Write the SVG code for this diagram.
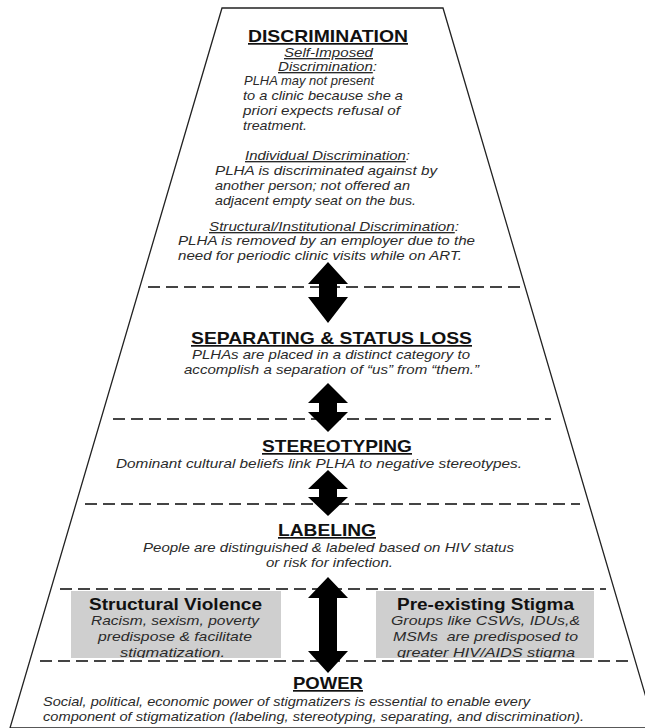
<svg xmlns="http://www.w3.org/2000/svg" width="645" height="728" viewBox="0 0 645 728">
<defs>
<style>
.t{font-family:"Liberation Sans",Arial,Helvetica,sans-serif;font-weight:bold;font-size:17px;fill:#111;text-decoration:underline}
.b{font-family:"Liberation Sans",Arial,Helvetica,sans-serif;font-style:italic;font-size:13.5px;fill:#2a2a2a}
.u{text-decoration:underline}
.bt{font-family:"Liberation Sans",Arial,Helvetica,sans-serif;font-weight:bold;font-size:16px;fill:#111}
.sep{stroke:#444;stroke-width:2;stroke-dasharray:12 6;fill:none}
.box{fill:#cfcfcf}
.arr{fill:#000}
.frame{fill:#fff;stroke:#222;stroke-width:1.3}
</style>
<clipPath id="cl"><rect x="71" y="591" width="210" height="67"/></clipPath>
<clipPath id="cr"><rect x="376" y="591" width="218" height="67"/></clipPath>
</defs>
<rect width="645" height="728" fill="#fff"/>
<polygon class="frame" points="222,8 443,8 655,728 10,728"/>

<g id="separators">
<line class="sep" x1="148" y1="287" x2="525" y2="287"/>
<line class="sep" x1="113" y1="419" x2="551" y2="419"/>
<line class="sep" x1="85" y1="504" x2="580" y2="504"/>
<line class="sep" x1="60" y1="589" x2="606" y2="589"/>
<line class="sep" x1="40" y1="661" x2="630" y2="661"/>
</g>

<g id="discrimination">
<text class="t" x="248" y="42" textLength="160" lengthAdjust="spacingAndGlyphs">DISCRIMINATION</text>
<text class="b" x="284" y="57" textLength="89" lengthAdjust="spacingAndGlyphs"><tspan class="u">Self-Imposed</tspan></text>
<text class="b" x="278" y="71" textLength="99" lengthAdjust="spacingAndGlyphs"><tspan class="u">Discrimination</tspan>:</text>
<text class="b" x="244" y="85" textLength="130" lengthAdjust="spacingAndGlyphs">PLHA may not present</text>
<text class="b" x="243" y="100" textLength="160" lengthAdjust="spacingAndGlyphs">to a clinic because she a</text>
<text class="b" x="243" y="115" textLength="157" lengthAdjust="spacingAndGlyphs">priori expects refusal of</text>
<text class="b" x="243" y="130" textLength="64" lengthAdjust="spacingAndGlyphs">treatment.</text>
<text class="b" x="245" y="160" textLength="165" lengthAdjust="spacingAndGlyphs"><tspan class="u">Individual Discrimination</tspan>:</text>
<text class="b" x="215" y="175" textLength="222" lengthAdjust="spacingAndGlyphs">PLHA is discriminated against by</text>
<text class="b" x="215" y="190" textLength="195" lengthAdjust="spacingAndGlyphs">another person; not offered an</text>
<text class="b" x="215" y="205" textLength="201" lengthAdjust="spacingAndGlyphs">adjacent empty seat on the bus.</text>
<text class="b" x="209" y="231" textLength="250" lengthAdjust="spacingAndGlyphs"><tspan class="u">Structural/Institutional Discrimination</tspan>:</text>
<text class="b" x="178" y="245" textLength="297" lengthAdjust="spacingAndGlyphs">PLHA is removed by an employer due to the</text>
<text class="b" x="178" y="260" textLength="284" lengthAdjust="spacingAndGlyphs">need for periodic clinic visits while on ART.</text>
</g>

<g id="separating">
<text class="t" x="191" y="344" textLength="281" lengthAdjust="spacingAndGlyphs">SEPARATING &amp; STATUS LOSS</text>
<text class="b" x="192" y="359" textLength="278" lengthAdjust="spacingAndGlyphs">PLHAs are placed in a distinct category to</text>
<text class="b" x="184" y="374" textLength="295" lengthAdjust="spacingAndGlyphs">accomplish a separation of “us” from “them.”</text>
</g>

<g id="stereotyping">
<text class="t" x="262" y="452" textLength="150" lengthAdjust="spacingAndGlyphs">STEREOTYPING</text>
<text class="b" x="116" y="468" textLength="406" lengthAdjust="spacingAndGlyphs">Dominant cultural beliefs link PLHA to negative stereotypes.</text>
</g>

<g id="labeling">
<text class="t" x="278" y="536" textLength="98" lengthAdjust="spacingAndGlyphs">LABELING</text>
<text class="b" x="143" y="552" textLength="371" lengthAdjust="spacingAndGlyphs">People are distinguished &amp; labeled based on HIV status</text>
<text class="b" x="266" y="567" textLength="127" lengthAdjust="spacingAndGlyphs">or risk for infection.</text>
</g>

<g id="structural-violence">
<rect class="box" x="71" y="591" width="210" height="67"/>
<g clip-path="url(#cl)">
<text class="bt" x="89" y="610" textLength="173" lengthAdjust="spacingAndGlyphs">Structural Violence</text>
<text class="b" x="91" y="625" textLength="168" lengthAdjust="spacingAndGlyphs">Racism, sexism, poverty</text>
<text class="b" x="98" y="641" textLength="154" lengthAdjust="spacingAndGlyphs">predispose &amp; facilitate</text>
<text class="b" x="120" y="657" textLength="105" lengthAdjust="spacingAndGlyphs">stigmatization.</text>
</g>
</g>

<g id="preexisting-stigma">
<rect class="box" x="376" y="591" width="218" height="67"/>
<g clip-path="url(#cr)">
<text class="bt" x="397" y="610" textLength="177" lengthAdjust="spacingAndGlyphs">Pre-existing Stigma</text>
<text class="b" x="391" y="625" textLength="189" lengthAdjust="spacingAndGlyphs">Groups like CSWs, IDUs,&amp;</text>
<text class="b" x="393" y="641" textLength="185" lengthAdjust="spacingAndGlyphs" xml:space="preserve">MSMs  are predisposed to</text>
<text class="b" x="397" y="657" textLength="178" lengthAdjust="spacingAndGlyphs">greater HIV/AIDS stigma</text>
</g>
</g>

<g id="power">
<text class="t" x="293" y="689" textLength="70" lengthAdjust="spacingAndGlyphs">POWER</text>
<text class="b" x="43" y="706" textLength="487" lengthAdjust="spacingAndGlyphs">Social, political, economic power of stigmatizers is essential to enable every</text>
<text class="b" x="43" y="721" textLength="541" lengthAdjust="spacingAndGlyphs">component of stigmatization (labeling, stereotyping, separating, and discrimination).</text>
</g>

<g id="connectors">
<polygon class="arr" points="328,262 348,284 337,284 337,297 348,297 328,323 308,297 319,297 319,284 308,284"/>
<polygon class="arr" points="328,383 348,403 337,403 337,412 348,412 328,432 308,412 319,412 319,403 308,403"/>
<polygon class="arr" points="328,470 348,489 337,489 337,497 348,497 328,516 308,497 319,497 319,489 308,489"/>
<polygon class="arr" points="328,577 348,598 337,598 337,651 348,651 328,673 308,651 319,651 319,598 308,598"/>
</g>
</svg>
